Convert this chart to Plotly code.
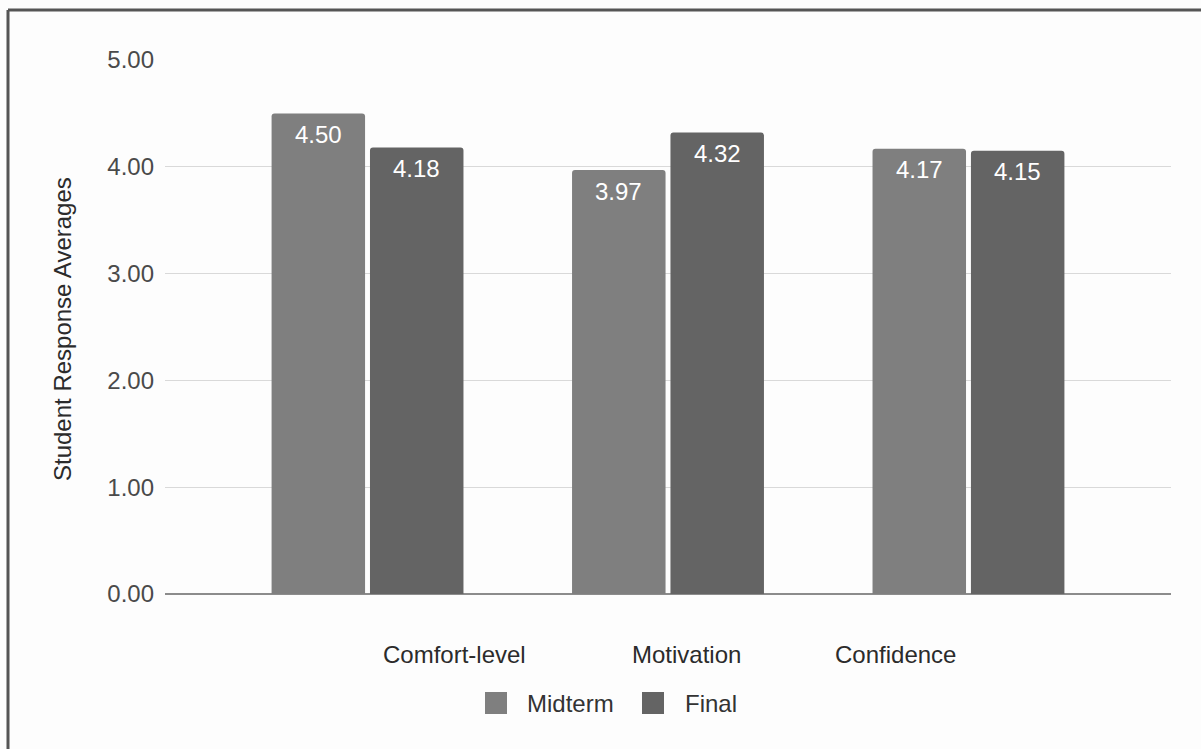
import plotly.graph_objects as go

# Survey dimensions and average responses per survey wave
categories = ["Comfort-level", "Motivation", "Confidence"]
midterm = [4.50, 3.97, 4.17]
final = [4.18, 4.32, 4.15]
series_names = ["Midterm", "Final"]
y_ticks = [0, 1, 2, 3, 4, 5]
y_tick_labels = ["0.00", "1.00", "2.00", "3.00", "4.00", "5.00"]
y_title = "Student Response Averages"

MIDTERM_COLOR = "#7f7f7f"
FINAL_COLOR = "#646464"
FONT = "Liberation Sans, Arial, sans-serif"
FS = 24

W, H = 1201, 749
ML, MR, MT, MB = 165, 30, 60, 155
PW, PH = W - ML - MR, H - MT - MB

BARGAP = 0.345
GROUPGAP = 0.05


def px_x(x):
    """Page x pixel -> paper coordinate."""
    return (x - ML) / PW


def px_y(y):
    """Page y pixel -> paper coordinate."""
    return (H - MB - y) / PH


fig = go.Figure()
series = [(series_names[0], midterm, MIDTERM_COLOR),
          (series_names[1], final, FINAL_COLOR)]
for name, vals, color in series:
    fig.add_trace(go.Bar(
        x=categories, y=vals, name=name,
        marker=dict(color=color, line=dict(width=0)),
        showlegend=False,
        hoverinfo="skip",
    ))

# value labels inside the top of each bar
slot = (1 - BARGAP) / len(series)
for k, (name, vals, color) in enumerate(series):
    offset = -(1 - BARGAP) / 2 + slot * (k + 0.5)
    for i, v in enumerate(vals):
        fig.add_annotation(
            x=i + offset, y=v, xref="x", yref="y",
            text=f"{v:.2f}", showarrow=False,
            xanchor="center", yanchor="middle", yshift=-21,
            font=dict(family=FONT, size=FS, color="#ffffff"),
        )

fig.update_layout(
    width=W, height=H,
    margin=dict(l=ML, r=MR, t=MT, b=MB, pad=0),
    paper_bgcolor="#fdfdfd",
    plot_bgcolor="#fdfdfd",
    barmode="group",
    bargap=BARGAP,
    bargroupgap=GROUPGAP,
    barcornerradius=3,
    font=dict(family=FONT, size=FS, color="#333333"),
    showlegend=False,
    xaxis=dict(
        range=[-0.674, 2.674],
        showticklabels=False,
        showgrid=False,
        zeroline=False,
        showline=False,
        fixedrange=True,
    ),
    yaxis=dict(
        range=[0, 5],
        tickvals=y_ticks,
        ticktext=y_tick_labels,
        tickfont=dict(family=FONT, size=FS, color="#4a4a4a"),
        ticklabelstandoff=10,
        showgrid=True,
        gridcolor="#d9d9d9",
        gridwidth=1,
        zeroline=True,
        zerolinecolor="#8c8c8c",
        zerolinewidth=2,
        showline=False,
        fixedrange=True,
    ),
)

# category labels under the bars
label_x = [454, 686, 895]
for cat, lx in zip(categories, label_x):
    fig.add_annotation(
        text=cat, xref="paper", yref="paper",
        x=px_x(lx), y=px_y(654), xanchor="center", yanchor="middle",
        showarrow=False,
        font=dict(family=FONT, size=FS, color="#2b2b2b"),
    )

# legend: swatches and names
legend_swatch_x = [485, 642]
legend_text_x = [525, 683]
for (name, vals, color), sx, tx in zip(series, legend_swatch_x, legend_text_x):
    fig.add_shape(type="rect", xref="paper", yref="paper",
                  x0=px_x(sx), x1=px_x(sx + 22), y0=px_y(692), y1=px_y(714),
                  fillcolor=color, line=dict(width=0))
    fig.add_annotation(
        text=name, xref="paper", yref="paper",
        x=px_x(tx), y=px_y(703), xanchor="left", yanchor="middle",
        showarrow=False,
        font=dict(family=FONT, size=FS, color="#333333"),
    )

# vertical axis title
fig.add_annotation(
    text=y_title, xref="paper", yref="paper",
    x=px_x(62), y=px_y(329), xanchor="center", yanchor="middle",
    textangle=-90, showarrow=False,
    font=dict(family=FONT, size=FS, color="#2b2b2b"),
)

# frame along the top and left edge
fig.add_shape(type="line", xref="paper", yref="paper",
              x0=px_x(8), x1=px_x(W + 5), y0=px_y(10), y1=px_y(10),
              line=dict(color="#555555", width=3))
fig.add_shape(type="line", xref="paper", yref="paper",
              x0=px_x(8), x1=px_x(8), y0=px_y(10), y1=px_y(H + 5),
              line=dict(color="#555555", width=3))

fig.write_html("out.html", config={"displayModeBar": False})
